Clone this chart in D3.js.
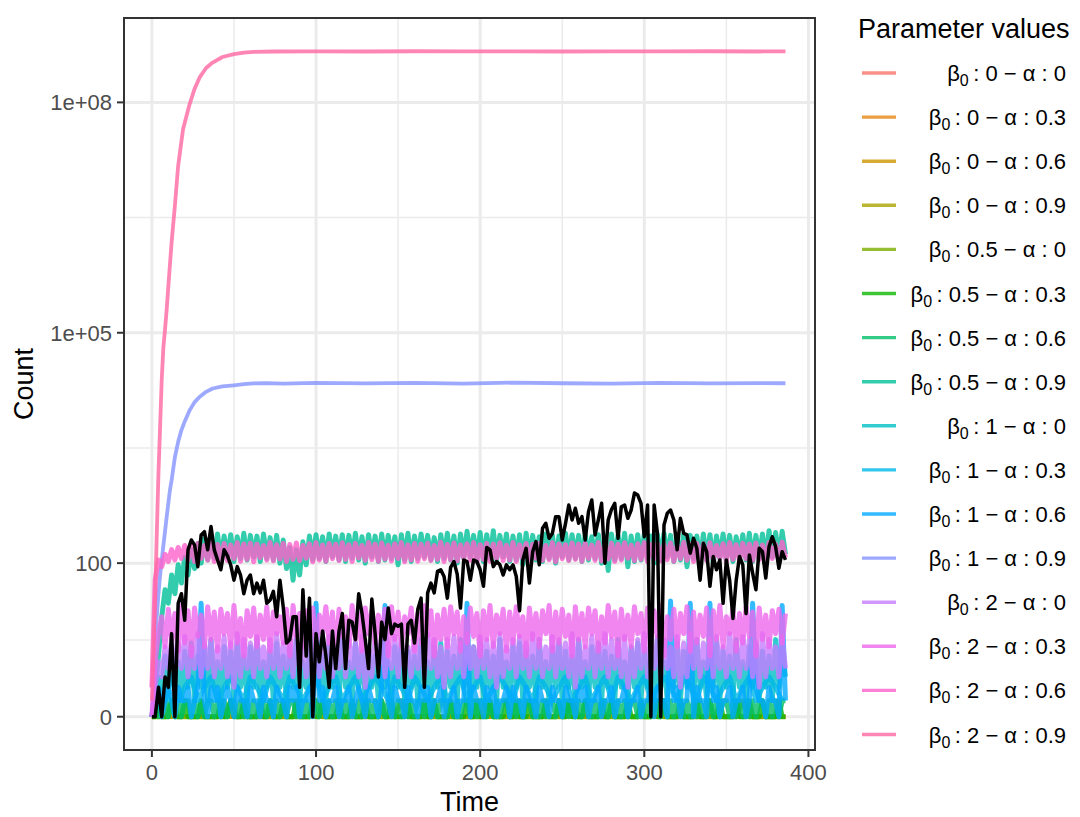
<!DOCTYPE html>
<meta charset="utf-8">
<style>
body { margin: 0; background: #fff; }
text { font-family: "Liberation Sans", Arial, Helvetica, sans-serif; }
.tick-label { fill: #4d4d4d; font-size: 22px; }
.axis-title { fill: #000; font-size: 27px; }
.legend-label { fill: #000; font-size: 22px; }
.grid-major { stroke: #ebebeb; stroke-width: 3px; }
.grid-minor { stroke: #ebebeb; stroke-width: 1.5px; }
.series { fill: none; stroke-opacity: 0.8; stroke-linejoin: round; }
.observed { fill: none; stroke: #000; stroke-width: 3.5px; stroke-linejoin: round; }
</style>
<svg width="1080" height="817"></svg>
<script src="https://d3js.org/d3.v7.min.js"></script>
<script>
//Legend categories: beta0 and alpha for every simulated run
var beta0 = [0, 0, 0, 0, 0.5, 0.5, 0.5, 0.5, 1, 1, 1, 1, 2, 2, 2, 2];
var alphaVals = [0, 0.3, 0.6, 0.9, 0, 0.3, 0.6, 0.9, 0, 0.3, 0.6, 0.9, 0, 0.3, 0.6, 0.9];
var colors = ["#F8766D", "#E68613", "#CD9600", "#ABA300", "#7CAE00", "#0CB702", "#00BE67", "#00C19A",
              "#00BFC4", "#00B8E7", "#00A9FF", "#8494FF", "#C77CFF", "#ED68ED", "#FF61CC", "#FF68A1"];

//Axis ticks
var xTicks = [0, 100, 200, 300, 400];
var yTicks = [0, 100, 1e5, 1e8];
var yTickLabels = ["0", "100", "1e+05", "1e+08"];

//Runs with beta0 = 0 stay at zero
var zeroT = [0, 386];
var zeroV = [0, 0];

//beta0 0.5 - alpha 0 (every 4 time units)
var b05a0 = [0,0,0,1,0,0,0,0,0,0, 0,0,1,0,0,0,0,0,0,0, 0,0,0,0,0,1,0,0,0,0, 0,0,0,0,0,0,0,0,1,0,
             0,0,0,0,0,0,0,0,0,0, 0,1,0,0,0,0,0,0,0,0, 0,0,0,0,1,0,0,0,0,0, 0,0,0,0,0,0,0,1,0,0,
             0,0,0,0,0,0,0,0,0,0, 1,0,0,0,0,0,0];
//beta0 0.5 - alpha 0.3 (every 2 time units)
var b05a03 = [0,0,1,0,0,0,1,0,0,0, 1,0,0,0,0,1,0,0,0,0, 0,1,0,0,1,0,0,0,1,0, 0,0,0,1,0,0,1,0,0,0,
              1,0,0,0,1,0,0,0,0,1, 0,0,1,0,0,0,0,1,0,0, 0,1,0,0,0,1,0,0,0,0, 1,0,0,1,0,0,0,0,1,0,
              0,0,0,1,0,0,1,0,0,0, 0,1,0,0,0,0,1,0,0,1, 0,0,0,1,0,0,0,0,1,0, 0,1,0,0,0,1,0,0,0,0,
              1,0,0,0,1,0,0,1,0,0, 0,0,1,0,0,0,0,1,0,0, 1,0,0,0,0,1,0,0,0,1, 0,0,0,1,0,0,1,0,0,0,
              0,1,0,0,0,0,1,0,0,0, 1,0,0,1,0,0,0,0,1,0, 0,0,1,0,0,0,1,0,0,0, 0,1,0,0];
//beta0 0.5 - alpha 0.6
var b05a06 = [0,1,0,1,1,0,1,0,1,0, 1,1,0,1,0,1,0,1,1,0, 1,0,1,0,1,1,0,1,0,1, 0,1,0,1,1,0,1,0,1,0,
              1,0,1,1,0,1,0,1,0,1, 1,0,1,0,1,0,1,1,0,1, 0,1,0,1,0,1,1,0,1,0, 1,0,1,1,0,1,0,1,0,1,
              0,1,1,0,1,0,1,0,1,1, 0,1,0,1,0,1,1,0,1,0, 1,1,0,1,0,1,0,1,1,0, 1,0,1,0,1,1,0,1,0,1,
              0,1,1,0,1,0,1,0,1,0, 1,0,1,1,0,1,0,1,1,0, 1,0,1,0,1,0,1,1,0,1, 0,1,0,1,1,0,1,0,1,0,
              1,1,0,1,0,1,0,1,0,1, 1,0,1,0,1,1,0,1,0,1, 0,1,0,1,0,1,1,0,1,0, 1,0,1,1];
//beta0 0.5 - alpha 0.9
var b05a09 = [0,2,6,20,45,30,70,40,95,55, 120,70,150,85,180,100,210,110,225,115,
              240,110,225,120,235,105,220,115,245,110, 230,120,225,105,240,115,215,110,230,100,
              200,85,160,60,150,70,190,95,225,110, 235,115,220,105,240,120,225,110,235,105,
              230,115,245,110,220,100,235,120,225,105, 240,110,230,115,220,95,235,110,245,105,
              225,115,240,120,230,110,215,105,235,115, 245,110,225,100,240,115,260,120,230,110,
              250,105,235,115,265,110,230,120,240,105, 225,110,235,95,245,115,230,110,220,105,
              240,115,230,100,225,120,245,110,235,115, 230,105,240,110,220,115,235,100,225,80,
              240,110,230,115,245,90,225,105,235,110, 240,115,225,100,235,110,245,120,230,105,
              220,110,240,90,230,115,225,105,240,110, 235,100,225,115,240,110,230,105,220,115,
              235,110,245,105,230,115,240,110,265,120, 250,115,260,130];
//beta0 1 - alpha 0
var b1a0 = [0,1,3,2,6,1,8,2,5,1, 7,2,9,1,6,2,8,1,10,2, 5,1,8,2,7,1,9,2,6,1, 8,2,10,1,5,2,7,1,9,2,
            6,1,8,2,10,1,5,2,7,1, 9,2,6,1,8,2,7,1,10,2, 5,1,9,2,7,1,8,2,6,1, 10,2,5,1,8,2,9,1,7,2,
            6,1,10,2,5,1,8,2,9,1, 7,2,6,1,10,2,5,1,8,2, 9,1,7,2,6,1,10,2,5,1, 8,2,9,1,7,2,6,1,10,2,
            5,1,8,2,9,1,7,2,6,1, 10,2,5,1,8,2,9,1,7,2, 6,1,10,2,5,1,8,2,9,1, 7,2,6,1,10,2,5,1,8,2,
            9,1,7,2,6,1,10,2,5,1, 8,2,9,1,7,2,6,1,10,2, 5,1,8,2,9,1,7,2,6,1, 10,2,8,3];
//beta0 1 - alpha 0.3 (every 4 time units)
var b1a03 = [0,2,1,3,1,2,3,1,2,3, 1,2,3,2,1,3,2,1,3,2, 1,3,2,1,2,3,1,2,3,1, 2,3,1,2,3,2,1,3,2,1,
             3,2,1,2,3,1,2,3,1,2, 3,1,2,3,2,1,3,2,1,3, 2,1,2,3,1,2,3,1,2,3, 1,3,2,1,2,3,1,2,3,2,
             1,3,2,1,3,2,1,2,3,1, 2,3,1,2,3,2,1];
//beta0 1 - alpha 0.6: low counts with a few tall spikes
var b1a06 = [0,1,2,0,1,2,1,0,2,1, 1,2,0,1,2,30,1,0,2,1, 2,0,1,2,1,0,2,1,1,0, 2,1,1,0,2,1,1,0,2,1,
             1,0,2,1,2,0,1,1,2,0, 30,1,2,0,1,1,2,0,1,1, 2,0,1,2,1,0,2,1,1,0, 2,28,1,0,2,1,1,0,2,1,
             1,0,2,1,2,0,1,1,2,0, 1,1,2,0,1,1,30,0,2,1, 1,0,2,1,2,0,1,1,2,0, 2,1,1,0,2,1,1,0,2,1,
             1,0,2,1,1,0,2,1,1,0, 2,1,2,0,1,1,2,0,1,1, 2,0,1,1,2,0,1,1,2,0, 1,1,2,0,2,1,1,0,32,1,
             2,0,1,1,30,0,2,1,1,0, 30,1,2,0,1,1,2,0,1,1, 2,0,1,30,2,1,1,0,2,1, 1,0,28,1];
//beta0 1 - alpha 0.9 (own time points)
var b1a09T = [0,1,2,3,4,5,6,7,8,9,10,11,12,13,14,16,18,20,23,26,29,33,37,43,50,56,62,70,80,100,
              130,160,190,220,250,280,310,340,370,386];
var b1a09V = [2,5,10,20,40,70,110,170,260,400,600,900,1200,1700,2400,3800,5400,7000,9800,12500,
              14600,17000,18800,20000,20700,21400,21900,22100,21800,22300,21900,22200,21700,22400,
              22000,21800,22300,21900,22100,22000];
//beta0 2 - alpha 0
var b2a0 = [0,2,5,3,8,4,10,3,9,4, 11,3,8,4,12,3,9,4,10,3, 8,4,11,3,9,2,12,3,10,4, 9,3,11,4,8,3,10,4,12,3,
            9,4,10,3,11,4,8,3,12,2, 10,3,9,4,11,3,8,4,12,3, 10,4,9,3,11,2,8,3,10,4, 12,3,9,4,11,3,10,4,8,3,
            11,4,9,3,12,4,10,3,8,2, 10,3,11,4,9,3,12,4,8,3, 11,4,10,3,9,2,12,3,8,4, 10,3,11,4,9,3,12,4,10,3,
            8,4,11,3,10,4,9,3,12,2, 10,3,8,4,11,3,9,4,12,3, 10,4,9,3,11,2,8,3,10,4, 12,3,9,4,11,3,10,4,8,3,
            11,2,9,3,12,4,10,3,9,4, 10,3,11,4,8,3,12,4,9,3, 11,4,10,3,9,2,12,3,10,4, 8,3,11,4];
//beta0 2 - alpha 0.3
var b2a03 = [0,5,12,20,8,25,10,22,7,28, 9,24,6,26,11,21,8,27,10,23, 7,25,12,22,8,28,9,19,6,24,
             11,26,8,21,10,27,7,23,12,20, 9,25,6,28,11,22,8,24,10,26, 7,21,12,27,9,23,6,25,11,20,
             8,28,10,22,7,26,12,24,9,21, 11,25,6,27,10,23,8,20,12,26, 7,22,9,28,11,24,6,21,10,25,
             8,27,12,23,7,20,9,26,11,22, 6,24,10,28,8,21,12,25,7,23, 9,27,11,20,6,26,10,22,8,24,
             12,28,7,23,9,25,11,21,6,27, 10,22,8,26,12,24,7,20,9,28, 11,23,6,25,10,21,8,27,12,22,
             7,26,9,24,11,28,6,20,10,25, 8,22,12,27,7,23,9,21,11,26, 6,24,10,28,8,20,12,25,7,22,
             9,27,11,23,6,26,10,21,8,24, 12,25,9,22];
//beta0 2 - alpha 0.6
var b2a06 = [2,60,110,90,130,105,150,110,160,115, 170,110,175,105,180,115,170,110,185,105,
             175,110,180,108,172,115,185,106,178,112, 182,104,176,118,170,110,186,107,174,113,
             180,105,175,112,183,108,170,116,178,104, 185,110,172,106,180,114,176,108,184,112,
             174,105,181,117,170,109,186,111,177,106, 183,113,171,107,179,115,185,104,173,110,
             180,106,176,114,182,108,170,112,187,105, 175,111,183,107,172,116,178,109,185,104,
             174,112,181,106,177,115,184,108,171,110, 186,105,173,113,180,107,176,116,182,109,
             170,111,185,104,178,114,174,108,183,112, 177,106,181,115,172,109,186,107,175,113,
             182,105,176,110,184,116,171,108,179,112, 185,104,174,114,180,107,177,111,183,106,
             172,115,186,109,175,105,181,113,178,108, 184,110,170,116,179,106,185,112,174,107,
             181,114,177,108,183,111,172,105,186,115, 176,109,188,118];
//beta0 2 - alpha 0.9 (own time points)
var b2a09T = [0,1,2,3,4,5,6,7,8,9,10,12,14,16,19,23,26,29,33,37,43,50,56,62,75,100,130,160,190,220,
              250,280,310,340,370,386];
var b2a09V = [1,8,40,250,1500,6000,25000,65000,110000,200000,400000,1.5e6,4.5e6,1.5e7,4.5e7,9.5e7,
              1.5e8,2.1e8,2.8e8,3.3e8,3.9e8,4.25e8,4.45e8,4.55e8,4.6e8,4.62e8,4.6e8,4.63e8,4.61e8,
              4.62e8,4.6e8,4.62e8,4.61e8,4.63e8,4.6e8,4.62e8];

//Observed counts (black line, every 2 time units)
var observed = [0,0,2,0,3,2,12,0,30,40, 18,149,200,173,90,233,257,149,300,149,
                110,82,149,125,95,60,90,70,40,60, 70,40,55,41,60,30,33,43,20,60,
                27,9,10,20,20,2,45,6,35,0, 12,5,13,6,2,13,4,13,22,4,
                18,17,10,40,22,10,4,34,12,3, 17,10,26,12,16,15,16,2,16,18,
                9,25,35,2,41,55,41,78,82,67, 35,88,105,72,26,110,105,60,110,105,
                82,50,160,149,90,105,95,70,95,82, 95,67,24,110,156,55,141,191,95,284,
                330,211,245,403,403,200,330,571,365,518, 330,403,200,468,664,233,365,601,100,365,
                500,601,211,543,571,384,492,818,770,601, 221,571,0,571,245,0,314,446,492,365,
                149,384,245,233,135,211,156,60,181,141, 50,122,82,110,30,110,60,19,60,122,
                95,22,128,74,45,156,141,64,164,221, 164,86,141,110];

//turn a list of values at a fixed time step into points
function stepped(vals, step) {
  return vals.map(function(v, i) { return {t: i * step, v: v}; });
}
function paired(ts, vs) {
  return ts.map(function(t, i) { return {t: t, v: vs[i]}; });
}

var runs = [
  paired(zeroT, zeroV), paired(zeroT, zeroV), paired(zeroT, zeroV), paired(zeroT, zeroV),
  stepped(b05a0, 4), stepped(b05a03, 2), stepped(b05a06, 2), stepped(b05a09, 2),
  stepped(b1a0, 2), stepped(b1a03, 4), stepped(b1a06, 2), paired(b1a09T, b1a09V),
  stepped(b2a0, 2), stepped(b2a03, 2), stepped(b2a06, 2), paired(b2a09T, b2a09V)
];
//the noisy runs are sampled more coarsely than the simulation, draw them a bit wider
var noisy = [false, false, false, false, true, true, true, true, true, true, true, false, true, true, true, false];
var obsPoints = stepped(observed, 2);

var svg = d3.select("svg");
svg.append("rect").attr("width", 1080).attr("height", 817).attr("fill", "#fff");

var panel = {left: 124, right: 815, top: 18, bottom: 750};

//pseudo log scale like ggplot: asinh(x/2)/ln(10)
function plog(v) { return Math.asinh(v / 2) / Math.LN10; }
var maxVal = d3.max(runs, function(r) { return d3.max(r, function(d) { return d.v; }); });
var tMax = plog(maxVal), pad = tMax * 0.05;

var x = d3.scaleLinear().domain([-17, 404]).range([panel.left, panel.right]);
var y = d3.scaleLinear().domain([-pad, tMax + pad]).range([panel.bottom, panel.top]);
function yPos(v) { return y(plog(v)); }

//grid lines
var grid = svg.append("g");
var xMinor = xTicks.slice(1).map(function(d) { return d - 50; });
var yMinor = yTicks.slice(1).map(function(d, i) { return (plog(d) + plog(yTicks[i])) / 2; });

grid.selectAll(".xminor").data(xMinor).enter().append("line")
    .attr("class", "grid-minor")
    .attr("x1", function(d) { return x(d); }).attr("x2", function(d) { return x(d); })
    .attr("y1", panel.top).attr("y2", panel.bottom);
grid.selectAll(".yminor").data(yMinor).enter().append("line")
    .attr("class", "grid-minor")
    .attr("x1", panel.left).attr("x2", panel.right)
    .attr("y1", function(d) { return y(d); }).attr("y2", function(d) { return y(d); });
grid.selectAll(".xmajor").data(xTicks).enter().append("line")
    .attr("class", "grid-major")
    .attr("x1", function(d) { return x(d); }).attr("x2", function(d) { return x(d); })
    .attr("y1", panel.top).attr("y2", panel.bottom);
grid.selectAll(".ymajor").data(yTicks).enter().append("line")
    .attr("class", "grid-major")
    .attr("x1", panel.left).attr("x2", panel.right)
    .attr("y1", function(d) { return yPos(d); }).attr("y2", function(d) { return yPos(d); });

//clip the lines to the panel
svg.append("clipPath").attr("id", "clip").append("rect")
    .attr("x", panel.left).attr("y", panel.top)
    .attr("width", panel.right - panel.left).attr("height", panel.bottom - panel.top);

var line = d3.line()
    .x(function(d) { return x(d.t); })
    .y(function(d) { return yPos(d.v); });

var plot = svg.append("g").attr("clip-path", "url(#clip)");
plot.selectAll(".series").data(runs).enter().append("path")
    .attr("class", "series")
    .attr("stroke", function(d, i) { return colors[i]; })
    .attr("stroke-width", function(d, i) { return noisy[i] ? 5 : 3.8; })
    .attr("d", line);
plot.append("path").datum(obsPoints)
    .attr("class", "observed")
    .attr("d", line);

//panel border
svg.append("rect")
    .attr("x", panel.left).attr("y", panel.top)
    .attr("width", panel.right - panel.left).attr("height", panel.bottom - panel.top)
    .attr("fill", "none").attr("stroke", "#333").attr("stroke-width", 2);

//axes ticks and labels
var axes = svg.append("g");
axes.selectAll(".xtick").data(xTicks).enter().append("line")
    .attr("x1", function(d) { return x(d); }).attr("x2", function(d) { return x(d); })
    .attr("y1", panel.bottom).attr("y2", panel.bottom + 7)
    .attr("stroke", "#333").attr("stroke-width", 2);
axes.selectAll(".xlab").data(xTicks).enter().append("text")
    .attr("class", "tick-label")
    .attr("x", function(d) { return x(d); })
    .attr("y", panel.bottom + 30)
    .attr("text-anchor", "middle")
    .text(function(d) { return d; });
axes.selectAll(".ytick").data(yTicks).enter().append("line")
    .attr("x1", panel.left - 7).attr("x2", panel.left)
    .attr("y1", function(d) { return yPos(d); }).attr("y2", function(d) { return yPos(d); })
    .attr("stroke", "#333").attr("stroke-width", 2);
axes.selectAll(".ylab").data(yTicks).enter().append("text")
    .attr("class", "tick-label")
    .attr("x", panel.left - 12)
    .attr("y", function(d) { return yPos(d); })
    .attr("dy", "0.36em")
    .attr("text-anchor", "end")
    .text(function(d, i) { return yTickLabels[i]; });

axes.append("text").attr("class", "axis-title")
    .attr("x", (panel.left + panel.right) / 2).attr("y", 811)
    .attr("text-anchor", "middle").text("Time");
axes.append("text").attr("class", "axis-title")
    .attr("transform", "translate(33," + (panel.top + panel.bottom) / 2 + ") rotate(-90)")
    .attr("text-anchor", "middle").text("Count");

//legend
var legend = svg.append("g");
legend.append("text").attr("class", "axis-title")
    .attr("x", 858).attr("y", 38).text("Parameter values");

var rows = legend.selectAll(".row").data(colors).enter().append("g")
    .attr("transform", function(d, i) { return "translate(0," + (73 + i * 44.1) + ")"; });
rows.append("line")
    .attr("x1", 862).attr("x2", 896)
    .attr("stroke", function(d) { return d; })
    .attr("stroke-opacity", 0.8)
    .attr("stroke-width", 3.4);
var labels = rows.append("text")
    .attr("class", "legend-label")
    .attr("x", 1066).attr("y", 8)
    .attr("text-anchor", "end");
labels.append("tspan").text("β");
labels.append("tspan").attr("dy", 5).attr("font-size", "16px").text("0");
labels.append("tspan").attr("dy", -5)
    .text(function(d, i) { return "\u2009: " + beta0[i] + " − α : " + alphaVals[i]; });
</script>
